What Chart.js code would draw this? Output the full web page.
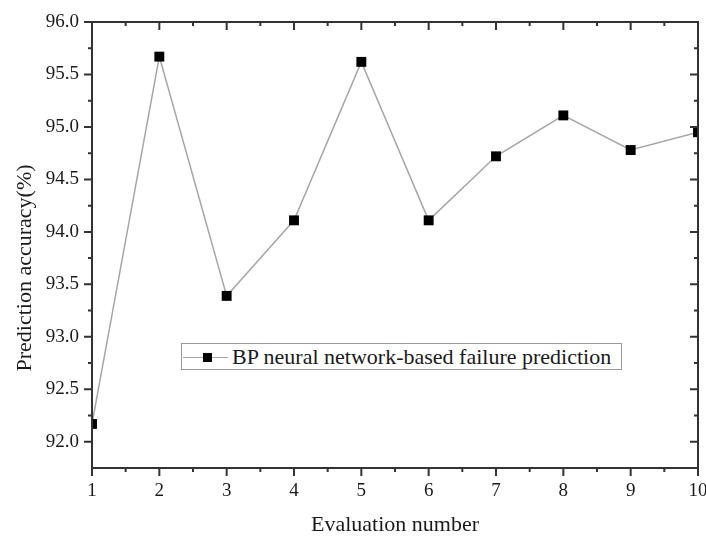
<!DOCTYPE html>
<html>
<head>
<meta charset="utf-8">
<script src="https://cdn.jsdelivr.net/npm/chart.js@4"></script>
<style>
  body { margin: 0; background: #fff; }
  #wrap { position: relative; width: 706px; height: 536px; overflow: hidden; }
  #legend {
    position: absolute; left: 181px; top: 343px; width: 441px; height: 27px;
    box-sizing: border-box; border: 1px solid #999; background: #fff;
    display: flex; align-items: center; padding-left: 1px;
    font: 22px "Liberation Serif", "Times New Roman", serif; color: #1a1a1a;
    white-space: nowrap; overflow: hidden;
  }
  #legend .sym { position: relative; width: 45px; height: 20px; margin-right: 4px; flex: none; }
  #legend .sym .ln { position: absolute; left: 0; right: 0; top: 10px; border-top: 1.5px solid #a6a6a6; }
  #legend .sym .sq { position: absolute; left: 20px; top: 6px; width: 9px; height: 9px; background: #000; }
</style>
</head>
<body>
<div id="wrap">
  <canvas id="chart" width="706" height="536"></canvas>
  <div id="legend"></div>
</div>
<script>
// Data
const evalNumbers = ['1', '2', '3', '4', '5', '6', '7', '8', '9', '10'];
const accuracy = [92.17, 95.67, 93.39, 94.11, 95.62, 94.11, 94.72, 95.11, 94.78, 94.95];
const yTickValues = [92.0, 92.5, 93.0, 93.5, 94.0, 94.5, 95.0, 95.5, 96.0];
const seriesLabel = 'BP neural network-based failure prediction';
const xTitle = 'Evaluation number';
const yTitle = 'Prediction accuracy(%)';

const axisColor = '#333';
const textColor = '#1a1a1a';
const serif = '"Liberation Serif", "Times New Roman", serif';

Chart.defaults.font.family = serif;
Chart.defaults.color = textColor;

// Box frame with major/minor ticks on all four sides (Origin style)
const framePlugin = {
    id: 'frame',
    afterDatasetsDraw(chart) {
        const ctx = chart.ctx;
        const area = chart.chartArea;
        const xs = chart.scales.x;
        const ys = chart.scales.y;
        const major = 8, minor = 4;

        ctx.save();
        ctx.strokeStyle = axisColor;
        ctx.lineWidth = 2;
        ctx.strokeRect(area.left, area.top, area.right - area.left, area.bottom - area.top);

        ctx.beginPath();
        // x ticks: bottom outward, top inward (both pointing down)
        for (let i = 0; i < evalNumbers.length; i++) {
            const px = xs.getPixelForValue(i);
            ctx.moveTo(px, area.bottom); ctx.lineTo(px, area.bottom + major);
            ctx.moveTo(px, area.top); ctx.lineTo(px, area.top + major);
            if (i < evalNumbers.length - 1) {
                const mx = xs.getPixelForValue(i + 0.5);
                ctx.moveTo(mx, area.bottom); ctx.lineTo(mx, area.bottom + minor);
                ctx.moveTo(mx, area.top); ctx.lineTo(mx, area.top + minor);
            }
        }
        // y ticks: left outward, right inward (both pointing left)
        const step = yTickValues[1] - yTickValues[0];
        yTickValues.forEach(v => {
            const py = ys.getPixelForValue(v);
            ctx.moveTo(area.left, py); ctx.lineTo(area.left - major, py);
            ctx.moveTo(area.right, py); ctx.lineTo(area.right - major, py);
            const my = ys.getPixelForValue(v - step / 2);
            if (my <= area.bottom - 1) {
                ctx.moveTo(area.left, my); ctx.lineTo(area.left - minor, my);
                ctx.moveTo(area.right, my); ctx.lineTo(area.right - minor, my);
            }
        });
        ctx.stroke();
        ctx.restore();
    },
    afterDraw(chart) {
        // y axis title sits a bit below the centre of the axis in the reference
        const ctx = chart.ctx;
        ctx.save();
        ctx.translate(25, 268);
        ctx.rotate(-Math.PI / 2);
        ctx.font = '22px ' + serif;
        ctx.fillStyle = textColor;
        ctx.textAlign = 'center';
        ctx.textBaseline = 'middle';
        ctx.fillText(yTitle, 0, 0);
        ctx.restore();
    }
};

const ctx = document.getElementById('chart').getContext('2d');
const chart = new Chart(ctx, {
    type: 'line',
    data: {
        labels: evalNumbers,
        datasets: [{
            label: seriesLabel,
            data: accuracy,
            borderColor: '#a6a6a6',
            borderWidth: 1.5,
            tension: 0,
            pointStyle: 'rect',
            pointRadius: 7,
            pointHoverRadius: 7,
            pointBackgroundColor: '#000',
            pointBorderWidth: 0,
            clip: 0
        }]
    },
    options: {
        responsive: false,
        animation: false,
        layout: { padding: { top: 22, right: 8, left: 0, bottom: 0 } },
        plugins: {
            legend: { display: false },
            tooltip: { enabled: false }
        },
        scales: {
            x: {
                type: 'category',
                offset: false,
                grid: { display: false, drawTicks: false },
                border: { display: false },
                ticks: {
                    font: { size: 19 },
                    color: textColor,
                    padding: 12,
                    maxRotation: 0,
                    autoSkip: false
                },
                title: {
                    display: true,
                    text: xTitle,
                    font: { size: 22, lineHeight: 1 },
                    color: textColor,
                    padding: { top: 0, bottom: 0 }
                },
                afterFit(scale) {
                    scale.height = 68;
                    scale.paddingLeft = 0;
                    scale.paddingRight = 0;
                }
            },
            y: {
                min: 91.75,
                max: 96.0,
                grid: { display: false, drawTicks: false },
                border: { display: false },
                afterBuildTicks(scale) {
                    scale.ticks = yTickValues.map(v => ({ value: v }));
                },
                ticks: {
                    font: { size: 19 },
                    color: textColor,
                    padding: 13,
                    callback: value => Number(value).toFixed(1)
                },
                afterFit(scale) {
                    scale.width = 92;
                    scale.paddingTop = 0;
                    scale.paddingBottom = 0;
                }
            }
        }
    },
    plugins: [framePlugin]
});

// HTML legend built from the dataset
const legend = document.getElementById('legend');
chart.data.datasets.forEach(ds => {
    legend.innerHTML += '<span class="sym"><span class="ln"></span><span class="sq"></span></span>' +
        '<span>' + ds.label + '</span>';
});
</script>
</body>
</html>
